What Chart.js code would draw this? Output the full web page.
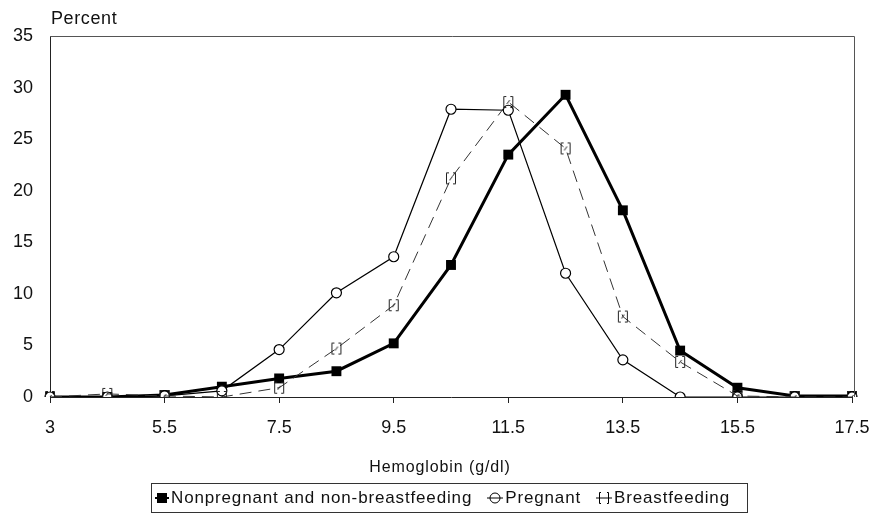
<!DOCTYPE html>
<html>
<head>
<meta charset="utf-8">
<script src="https://cdn.jsdelivr.net/npm/chart.js@4"></script>
<style>
  html, body { margin: 0; padding: 0; background: #fff; }
  #wrap { position: relative; width: 875px; height: 514px; font-family: 'Liberation Sans', Arial, sans-serif; color: #111; }
  #chart { position: absolute; left: 0; top: 0; }
  .ylab { position: absolute; left: 51px; top: 9px; font-size: 18px; line-height: 18px; letter-spacing: 0.6px; }
  .xlab { position: absolute; left: 0; width: 875px; top: 459px; text-align: center; font-size: 16px; line-height: 16px; letter-spacing: 0.9px; padding-left: 5px; box-sizing: border-box; }
  .legend { position: absolute; left: 151px; top: 483px; width: 597px; height: 30px; border: 1px solid #333; box-sizing: border-box;
            display: flex; align-items: center; font-size: 17px; letter-spacing: 0.85px; white-space: nowrap; padding-left: 3px; }
  .legend span { display: inline-flex; align-items: center; margin-right: 15px; }
  .legend svg { margin-right: 2px; }
</style>
</head>
<body>
<div id="wrap">
  <canvas id="chart" width="875" height="514"></canvas>
  <div class="ylab">Percent</div>
  <div class="xlab">Hemoglobin (g/dl)</div>
  <div class="legend">
    <span><svg width="14" height="12"><rect x="2" y="1" width="10" height="10" fill="#000"/><line x1="0" y1="6" x2="14" y2="6" stroke="#000" stroke-width="2"/></svg>Nonpregnant and non-breastfeeding</span>
    <span><svg width="16" height="12"><line x1="0" y1="6" x2="16" y2="6" stroke="#000" stroke-width="1"/><circle cx="8" cy="6" r="5" fill="none" stroke="#000"/></svg>Pregnant</span>
    <span><svg width="16" height="14"><path d="M5 1.5 H3.5 V12.5 H5 M11 1.5 H12.5 V12.5 H11 M0 7 H16" fill="none" stroke="#000"/></svg>Breastfeeding</span>
  </div>
</div>
<script>
const categories = ['3', '4.5', '5.5', '6.5', '7.5', '8.5', '9.5', '10.5', '11.5', '12.5', '13.5', '14.5', '15.5', '16.5', '17.5']
const nonpregnant = [0, 0, 0.2, 1.0, 1.8, 2.5, 5.2, 12.8, 23.5, 29.3, 18.1, 4.5, 0.9, 0.1, 0.1]
const pregnant = [0, 0, 0.1, 0.6, 4.6, 10.1, 13.6, 27.9, 27.8, 12.0, 3.6, 0, 0, 0, 0]
const breastfeeding = [0, 0.3, 0.1, 0, 0.9, 4.7, 8.9, 21.2, 28.6, 24.1, 7.8, 3.4, 0.1, 0, 0]
const yTicks = [0, 5, 10, 15, 20, 25, 30, 35]

// bracket marker for the breastfeeding series
function bracketMarker() {
  const c = document.createElement('canvas')
  c.width = 12
  c.height = 14
  const g = c.getContext('2d')
  g.strokeStyle = '#222'
  g.lineWidth = 1
  g.beginPath()
  g.moveTo(4, 1.5); g.lineTo(1.5, 1.5); g.lineTo(1.5, 12.5); g.lineTo(4, 12.5)
  g.moveTo(8, 1.5); g.lineTo(10.5, 1.5); g.lineTo(10.5, 12.5); g.lineTo(8, 12.5)
  g.moveTo(4.5, 9); g.lineTo(7.5, 5)
  g.stroke()
  return c
}

const frame = {
  id: 'frame',
  afterDraw(chart) {
    const { ctx, chartArea } = chart
    ctx.save()
    ctx.strokeStyle = '#555'
    ctx.lineWidth = 1
    ctx.beginPath()
    ctx.moveTo(chartArea.left, chartArea.top + 0.5)
    ctx.lineTo(chartArea.right + 2.5, chartArea.top + 0.5)
    ctx.lineTo(chartArea.right + 2.5, chartArea.bottom)
    ctx.stroke()
    ctx.restore()
  }
}

new Chart(document.getElementById('chart'), {
  type: 'line',
  data: {
    labels: categories,
    datasets: [
      {
        label: 'Breastfeeding',
        data: breastfeeding,
        borderColor: '#333',
        borderWidth: 1,
        borderDash: [12, 7],
        pointStyle: bracketMarker(),
        tension: 0
      },
      {
        label: 'Pregnant',
        data: pregnant,
        borderColor: '#000',
        borderWidth: 1.2,
        pointStyle: 'circle',
        pointRadius: 5,
        pointBackgroundColor: '#fff',
        pointBorderColor: '#000',
        pointBorderWidth: 1.2,
        tension: 0
      },
      {
        label: 'Nonpregnant and non-breastfeeding',
        data: nonpregnant,
        borderColor: '#000',
        borderWidth: 3,
        pointStyle: 'rect',
        pointRadius: 7,
        pointBackgroundColor: '#000',
        pointBorderColor: '#000',
        pointBorderWidth: 0,
        tension: 0
      }
    ]
  },
  options: {
    responsive: false,
    animation: false,
    layout: {
      padding: { left: 0, right: 23, top: 36, bottom: 0 }
    },
    plugins: {
      legend: { display: false },
      tooltip: { enabled: false }
    },
    scales: {
      x: {
        offset: false,
        afterFit: function(scale) {
          scale.height = 117
          scale.paddingLeft = 0
          scale.paddingRight = 0
        },
        border: { color: '#222', width: 1 },
        grid: {
          drawOnChartArea: false,
          drawTicks: true,
          tickLength: 6,
          color: function(ctx) { return ctx.index % 2 === 0 ? '#222' : 'rgba(0,0,0,0)' }
        },
        ticks: {
          autoSkip: false,
          maxRotation: 0,
          padding: 14,
          color: '#111',
          font: { family: 'Liberation Sans', size: 18 },
          callback: function(value, index) { return index % 2 === 0 ? categories[index] : '' }
        }
      },
      y: {
        min: 0,
        max: 35,
        afterFit: function(scale) { scale.width = 50 },
        afterBuildTicks: function(scale) { scale.ticks = yTicks.map(v => ({ value: v })) },
        border: { color: '#222', width: 1 },
        grid: { display: false, drawTicks: false },
        ticks: {
          padding: 17,
          color: '#111',
          font: { family: 'Liberation Sans', size: 18 }
        }
      }
    }
  },
  plugins: [frame]
})
</script>
</body>
</html>
